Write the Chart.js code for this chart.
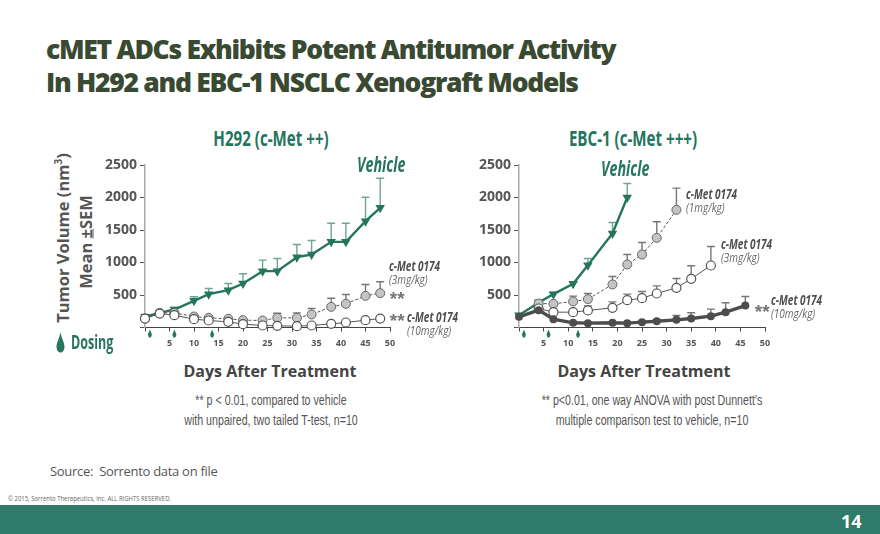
<!DOCTYPE html>
<html>
<head>
<meta charset="utf-8">
<title>cMET ADCs</title>
<script src="https://cdn.jsdelivr.net/npm/chart.js@4/dist/chart.umd.min.js"></script>
<style>
  html, body { margin: 0; padding: 0; background: #fff; }
  #page { position: relative; width: 880px; height: 534px; overflow: hidden; font-family: "Open Sans", sans-serif; color: #555; }
  #page canvas { position: absolute; }
  .txt { position: absolute; white-space: nowrap; }
  .green { color: #25755f; }
  .center { transform: translateX(-50%); text-align: center; }
  .cond { transform-origin: 0 0; font-weight: 700; }
  .lbl { transform: scaleX(.74); transform-origin: 0 0; }
  .lbl b { font-style: italic; font-size: 13.5px; color: #4d4d4d; display: block; line-height: 14px; }
  .lbl i { font-size: 13.5px; color: #666; display: block; line-height: 12px; }
  .note { font-family: "Liberation Sans", sans-serif; font-size: 15px; line-height: 20px; color: #555; transform: translateX(-50%) scaleX(.71); text-align: center; }
  .stars { font-family: "Liberation Sans", sans-serif; font-style: italic; font-weight: bold; font-size: 19px; color: #777; }
</style>
</head>
<body>
<div id="page">
  <div class="txt" style="left:46px;top:33px;font-size:26.5px;font-weight:800;line-height:33px;color:#3a4a32;letter-spacing:-1.3px">cMET ADCs Exhibits Potent Antitumor Activity<br>In H292 and EBC-1 NSCLC Xenograft Models</div>

  <div class="txt green cond" style="left:271px;top:124px;font-size:21px;transform:translateX(-50%) scaleX(.72);transform-origin:50% 0">H292 (c-Met ++)</div>
  <div class="txt green cond" style="left:633px;top:124px;font-size:21px;transform:translateX(-50%) scaleX(.72);transform-origin:50% 0">EBC-1 (c-Met +++)</div>

  <div class="txt" style="left:62px;top:238px;transform:translate(-50%,-50%) rotate(-90deg);font-size:16.5px;font-weight:700;color:#555">Tumor Volume (nm<sup style="font-size:10px;line-height:0">3</sup>)</div>
  <div class="txt" style="left:85px;top:242px;transform:translate(-50%,-50%) rotate(-90deg);font-size:16.5px;font-weight:700;color:#555">Mean <u>±</u>SEM</div>

  <canvas id="h292Chart" width="320" height="210" style="left:100px;top:150px;width:320px;height:210px"></canvas>
  <canvas id="ebcChart" width="321" height="210" style="left:474px;top:150px;width:321px;height:210px"></canvas>

  <div class="txt green cond" style="left:357px;top:148px;font-size:22px;font-style:italic;transform:scaleX(.65)">Vehicle</div>
  <div class="txt green cond" style="left:601px;top:152px;font-size:22px;font-style:italic;transform:scaleX(.65)">Vehicle</div>

  <div class="txt lbl" style="left:389px;top:259px"><b>c-Met 0174</b><i>(3mg/kg)</i></div>
  <div class="txt stars" style="left:389px;top:288px">**</div>
  <div class="txt stars" style="left:389px;top:310px">**</div>
  <div class="txt lbl" style="left:407px;top:310px"><b>c-Met 0174</b><i>(10mg/kg)</i></div>

  <div class="txt lbl" style="left:686px;top:187px"><b>c-Met 0174</b><i>(1mg/kg)</i></div>
  <div class="txt lbl" style="left:721px;top:237px"><b>c-Met 0174</b><i>(3mg/kg)</i></div>
  <div class="txt lbl" style="left:771px;top:293px"><b>c-Met 0174</b><i>(10mg/kg)</i></div>
  <div class="txt stars" style="left:754px;top:301px">**</div>

  <svg style="position:absolute;left:56px;top:332px" width="9" height="21"><path d="M4.5 0 C5.5 7 8.5 10 8.5 15 A4 5.5 0 0 1 0.5 15 C0.5 10 3.5 7 4.5 0Z" fill="#25755f"/></svg>
  <div class="txt green cond" style="left:71px;top:329px;font-size:19px;transform:scaleX(.66)">Dosing</div>

  <div class="txt center" style="left:270px;top:360px;font-size:16px;font-weight:700;color:#444">Days After Treatment</div>
  <div class="txt center" style="left:644px;top:360px;font-size:16px;font-weight:700;color:#444">Days After Treatment</div>

  <div class="txt note" style="left:271px;top:390px">** p &lt; 0.01, compared to vehicle<br>with unpaired, two tailed T-test, n=10</div>
  <div class="txt note" style="left:652px;top:390px">** p&lt;0.01, one way ANOVA with post Dunnett’s<br>multiple comparison test to vehicle, n=10</div>

  <div class="txt" style="left:50px;top:462px;font-size:13px;letter-spacing:-0.3px;color:#555">Source:&nbsp; Sorrento data on file</div>
  <div class="txt" style="left:8px;top:494px;font-size:7px;color:#666;transform:scaleX(.85);transform-origin:0 0">© 2015, Sorrento Therapeutics, Inc. ALL RIGHTS RESERVED.</div>
  <div style="position:absolute;left:0;top:505px;width:880px;height:29px;background:#2f7a6a"></div>
  <div class="txt" style="left:841px;top:509px;font-size:18px;font-weight:700;color:#fff">14</div>
</div>

<script>
// Tick labels
const yTicks = [500, 1000, 1500, 2000, 2500];
const xTicks = [5, 10, 15, 20, 25, 30, 35, 40, 45, 50];

// H292
const h292Days = [0, 3, 6, 10, 13, 17, 20, 24, 27, 31, 34, 38, 41, 45, 48];
const h292Vehicle = [165, 225, 277, 410, 513, 574, 677, 867, 867, 1082, 1123, 1318, 1318, 1636, 1841];
const h292VehicleTop = [200, 240, 310, 472, 600, 677, 826, 1036, 1061, 1277, 1338, 1605, 1605, 2005, 2297];
const h292Mg3 = [138, 225, 225, 169, 149, 133, 113, 108, 149, 149, 200, 318, 364, 487, 528];
const h292Mg3Top = [null, null, 250, 190, 175, 150, 130, 130, 220, 225, 292, 451, 508, 662, 703];
const h292Mg10 = [138, 215, 190, 128, 108, 87, 51, 31, 26, 20, 31, 56, 77, 113, 138];
const h292Dosing = [1, 6, 13.7];

// EBC-1
const ebcVehicleDays = [0, 4, 7, 11, 14, 19, 22];
const ebcVehicle = [190, 385, 513, 672, 959, 1446, 2000];
const ebcVehicleTop = [null, 420, 540, 700, 1061, 1615, 2215];
const ebcMg1Days = [4, 7, 11, 14, 19, 22, 25, 28, 32];
const ebcMg1 = [369, 364, 400, 436, 662, 969, 1123, 1379, 1810];
const ebcMg1Top = [400, 390, 482, 523, 785, 1123, 1308, 1626, 2144];
const ebcMg3Days = [4, 7, 11, 14, 19, 22, 25, 28, 32, 35, 39];
const ebcMg3 = [292, 236, 236, 262, 303, 420, 451, 523, 610, 749, 954];
const ebcMg3Top = [320, 260, 260, 333, 395, 513, 554, 641, 754, 949, 1246];
const ebcMg10Days = [0, 4, 7, 11, 14, 19, 22, 25, 28, 32, 35, 39, 42, 46];
const ebcMg10 = [164, 267, 128, 72, 67, 72, 67, 82, 97, 118, 138, 174, 236, 338];
const ebcMg10Top = [null, null, null, null, null, null, null, 100, 120, 185, 226, 282, 380, 477];
const ebcDosing = [1, 6, 12];

const GREEN = "#25755f";
const AXIS_W = 45;
const AXIS_H = 32.5;

function series(days, vals, tops, style) {
    return Object.assign({
        data: days.map((d, i) => ({ x: d, y: vals[i] })),
        tops: tops,
        clip: false,
        tension: 0,
        pointHoverRadius: 0
    }, style);
}

// Error bars, only the upper whisker like the original
const errorBars = {
    id: "errorBars",
    beforeDatasetsDraw(chart) {
        const { ctx, scales } = chart;
        chart.data.datasets.forEach(ds => {
            if (!ds.tops) return;
            ctx.save();
            ctx.strokeStyle = ds.errColor;
            ctx.lineWidth = 1.4;
            ds.data.forEach((p, i) => {
                if (ds.tops[i] == null) return;
                const x = scales.x.getPixelForValue(p.x);
                const y0 = scales.y.getPixelForValue(p.y);
                const y1 = scales.y.getPixelForValue(ds.tops[i]);
                ctx.beginPath();
                ctx.moveTo(x, y0);
                ctx.lineTo(x, y1);
                ctx.moveTo(x - 4, y1);
                ctx.lineTo(x + 4, y1);
                ctx.stroke();
            });
            ctx.restore();
        });
    }
};

// Small green dosing marks under the axis
const dosingMarks = {
    id: "dosingMarks",
    afterDraw(chart, args, opts) {
        const { ctx, scales } = chart;
        const y = scales.y.getPixelForValue(0);
        ctx.save();
        ctx.fillStyle = GREEN;
        opts.days.forEach(d => {
            const x = scales.x.getPixelForValue(d);
            ctx.beginPath();
            ctx.moveTo(x, y + 2);
            ctx.lineTo(x + 2, y + 7);
            ctx.lineTo(x + 1, y + 10);
            ctx.lineTo(x - 1, y + 10);
            ctx.lineTo(x - 2, y + 7);
            ctx.closePath();
            ctx.fill();
        });
        ctx.restore();
    }
};

function makeChart(id, datasets, dosing) {
    return new Chart(document.getElementById(id), {
        type: "line",
        data: { datasets: datasets },
        plugins: [errorBars, dosingMarks],
        options: {
            responsive: false,
            animation: false,
            layout: { padding: { top: 15, right: 30, left: 0, bottom: 0 } },
            plugins: {
                legend: { display: false },
                tooltip: { enabled: false },
                dosingMarks: { days: dosing }
            },
            scales: {
                x: {
                    type: "linear",
                    min: 0,
                    max: 50,
                    afterBuildTicks: s => { s.ticks = [0].concat(xTicks).map(v => ({ value: v })); },
                    afterFit: s => { s.height = AXIS_H; },
                    grid: { drawOnChartArea: false, tickLength: 4, tickColor: "#444", tickWidth: 1 },
                    border: { color: "#444", width: 1 },
                    ticks: {
                        autoSkip: false,
                        maxRotation: 0,
                        padding: 7,
                        color: "#555",
                        font: { family: "Open Sans", size: 9, weight: "bold" },
                        callback: v => xTicks.includes(v) ? String(v) : ""
                    }
                },
                y: {
                    min: 0,
                    max: 2500,
                    afterBuildTicks: s => { s.ticks = [0].concat(yTicks).map(v => ({ value: v })); },
                    afterFit: s => { s.width = AXIS_W; },
                    grid: { drawOnChartArea: false, tickLength: 5, tickColor: "#555", tickWidth: 1 },
                    border: { color: "#aaa", width: 1.5 },
                    ticks: {
                        autoSkip: false,
                        padding: 3,
                        color: "#555",
                        font: { family: "Open Sans", size: 14, weight: "bold" },
                        callback: v => yTicks.includes(v) ? String(v) : ""
                    }
                }
            }
        }
    });
}

const vehicleStyle = {
    borderColor: GREEN, borderWidth: 2.4, backgroundColor: GREEN, errColor: "#6fa596",
    pointStyle: "triangle", pointRotation: 180, pointRadius: 5.5, pointBorderWidth: 0
};
const greyStyle = {
    borderColor: "#555", borderWidth: 1, borderDash: [3, 2], backgroundColor: "#c4c4c4", errColor: "#777",
    pointRadius: 4.5, pointBorderColor: "#666", pointBorderWidth: 1
};
const whiteStyle = {
    borderColor: "#555", borderWidth: 1, backgroundColor: "#fff", errColor: "#777",
    pointRadius: 4.5, pointBorderColor: "#555", pointBorderWidth: 1.2
};
const darkStyle = {
    borderColor: "#4d4d4d", borderWidth: 3.4, backgroundColor: "#4d4d4d", errColor: "#777",
    pointRadius: 4, pointBorderWidth: 0
};

// first dataset is painted last, so the top marks go first
makeChart("h292Chart", [
    series(h292Days, h292Mg10, null, whiteStyle),
    series(h292Days, h292Mg3, h292Mg3Top, greyStyle),
    series(h292Days, h292Vehicle, h292VehicleTop, vehicleStyle)
], h292Dosing);

makeChart("ebcChart", [
    series(ebcMg10Days, ebcMg10, ebcMg10Top, darkStyle),
    series(ebcMg3Days, ebcMg3, ebcMg3Top, whiteStyle),
    series(ebcMg1Days, ebcMg1, ebcMg1Top, greyStyle),
    series(ebcVehicleDays, ebcVehicle, ebcVehicleTop, vehicleStyle)
], ebcDosing);
</script>
</body>
</html>
